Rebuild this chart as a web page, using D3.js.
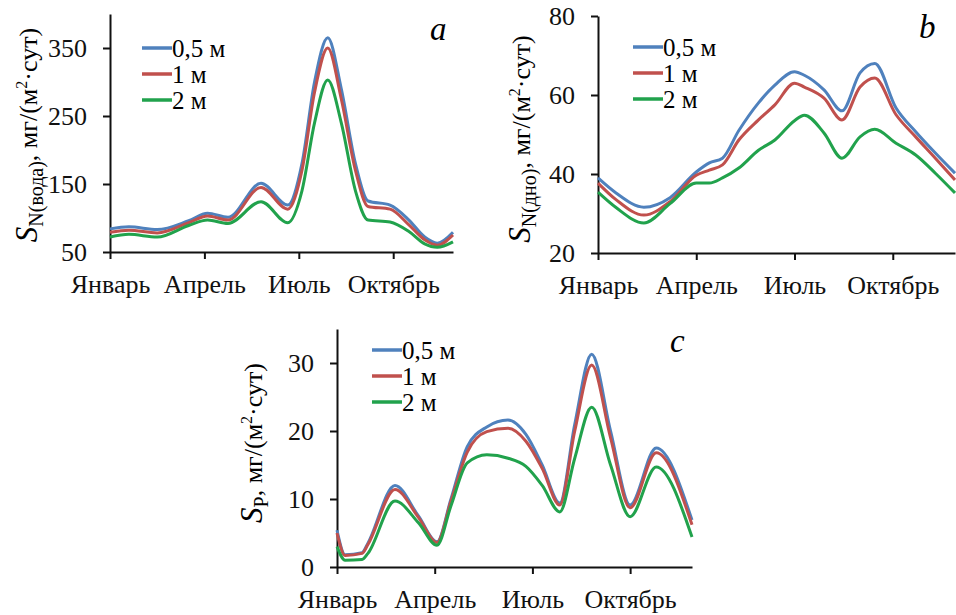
<!DOCTYPE html>
<html>
<head>
<meta charset="utf-8">
<script src="https://cdn.jsdelivr.net/npm/d3@7"></script>
<style>
  body { margin: 0; background: #fff; }
</style>
</head>
<body>
<div id="chart"></div>
<script>
// month ticks (0 = 1 Jan)
const monthTicks = [0, 3, 6, 9];
const monthLabels = ["Январь", "Апрель", "Июль", "Октябрь"];
const depths = ["0,5 м", "1 м", "2 м"];
const colors = ["#4f81bd", "#c0504d", "#21a24c"];
const serif = "\"Liberation Serif\", \"Times New Roman\", serif";

// panel a: S N(вода)
const monthsA = [0, 0.6, 1.5, 2.5, 3.1, 3.75, 4.8, 5.65, 6.1, 6.5, 6.92, 7.35, 7.8, 8.2, 8.9, 9.5, 10.0, 10.4, 10.9];
const waterA05 = [84, 87, 83, 96, 107, 101, 151, 119, 180, 300, 365, 290, 180, 125, 119, 97, 72, 63, 79];
const waterA1  = [79, 82, 78, 93, 103, 97, 145, 113, 170, 285, 350, 275, 170, 117, 113, 90, 68, 60, 75];
const waterA2  = [72, 76, 72, 89, 97, 92, 124, 93, 140, 240, 303, 240, 140, 97, 94, 80, 62, 57, 65];

// panel b: S N(дно)
const monthsB = [0, 0.55, 1.4, 2.2, 3.0, 3.4, 3.8, 4.3, 4.9, 5.4, 6.0, 6.3, 6.9, 7.45, 8.0, 8.45, 9.1, 9.7, 10.3, 10.9];
const bottomB05 = [39, 35.2, 31.6, 34, 40.5, 42.8, 44, 51, 58, 62.5, 65.9, 65, 61.3, 56, 65.6, 68, 56.7, 50.7, 45.3, 40.2];
const bottomB1  = [37.7, 33.5, 29.6, 33, 39.7, 41, 42.3, 48.6, 53.7, 57.5, 63, 62, 59.2, 53.7, 62, 64.3, 55, 49.4, 44, 38.5];
const bottomB2  = [35.4, 31.5, 27.6, 32.5, 37.7, 37.7, 39, 41.5, 46, 48.6, 53.5, 54.9, 50.4, 44, 49.4, 51.3, 47.8, 44.8, 40.2, 35.2];

// panel c: S P
const monthsC = [0, 0.25, 0.77, 0.95, 1.78, 2.5, 3.07, 3.5, 4.0, 4.6, 5.25, 5.8, 6.3, 6.84, 7.3, 7.82, 8.4, 9.0, 9.8, 10.9];
const phosC05 = [5.4, 1.8, 2.1, 3.5, 12.0, 7.5, 3.7, 10, 17.7, 20.6, 21.6, 19.5, 15, 9.4, 21, 31.3, 20, 9.1, 17.5, 6.9];
const phosC1  = [5.0, 1.7, 2.0, 3.3, 11.4, 7.3, 3.6, 9.7, 16.9, 19.9, 20.4, 18.5, 14.5, 9.1, 20, 29.7, 19, 8.7, 16.8, 6.2];
const phosC2  = [3.0, 1.0, 1.1, 2.0, 9.7, 6.5, 3.2, 9, 15.3, 16.5, 16.0, 14.8, 12, 8.1, 16, 23.5, 15, 7.4, 14.7, 4.4];

const svg = d3.select("#chart").append("svg").attr("width", 956).attr("height", 615);

function drawPanel(p) {
  const x = d3.scaleLinear().domain([0, 10.9]).range([p.left, p.right]);
  const y = d3.scaleLinear().domain(p.yDomain).range([p.bottom, p.top]);
  const g = svg.append("g");

  // x axis
  const xa = g.append("g").attr("transform", `translate(0,${p.bottom})`)
    .call(d3.axisBottom(x).tickValues(monthTicks).tickFormat((d, i) => monthLabels[i]).tickSize(7).tickSizeOuter(0).tickPadding(20));
  // y axis
  const ya = g.append("g").attr("transform", `translate(${p.left},0)`)
    .call(d3.axisLeft(y).tickValues(p.yTicks).tickSize(7).tickSizeOuter(0).tickPadding(16));
  [xa, ya].forEach(a => {
    a.attr("font-family", null).attr("font-size", null);
    a.select(".domain").attr("stroke", "#111").attr("stroke-width", 2);
    a.selectAll(".tick line").attr("stroke", "#111").attr("stroke-width", 2);
    a.selectAll("text").style("font-size", "26px").attr("fill", "#111");
  });
  xa.selectAll("text").attr("dy", "0.55em");

  // lines
  const line = d3.line().x((d, i) => x(p.months[i])).y(d => y(d)).curve(d3.curveMonotoneX);
  p.series.forEach((s, k) => {
    g.append("path").datum(s).attr("d", line)
      .attr("fill", "none").attr("stroke", colors[k]).attr("stroke-width", 3).attr("stroke-linejoin", "round");
  });

  // legend
  depths.forEach((name, k) => {
    const ly = p.legY + k * p.legStep;
    g.append("line").attr("x1", p.legX).attr("x2", p.legX + 30).attr("y1", ly).attr("y2", ly)
      .attr("stroke", colors[k]).attr("stroke-width", 3.5);
    g.append("text").attr("x", p.legX + 30).attr("y", ly).attr("dy", "0.35em")
      .style("font-size", "25px").text(name);
  });

  // panel letter
  g.append("text").attr("x", p.letter[0]).attr("y", p.letter[1])
    .style("font-size", "33px").style("font-style", "italic").text(p.name);

  // y title
  const t = g.append("text")
    .attr("transform", `translate(${p.titleX},${p.titleY}) rotate(-90)`)
    .attr("text-anchor", "middle").style("font-size", "26px");
  t.append("tspan").style("font-style", "italic").style("font-size", "31px").text("S");
  t.append("tspan").attr("dy", "6").style("font-size", "20px").text(p.sub);
  t.append("tspan").attr("dy", "-6").text(", мг/(м");
  t.append("tspan").attr("dy", "-10").style("font-size", "16px").text("2");
  t.append("tspan").attr("dy", "10").text("·сут)");
}

drawPanel({
  name: "a", left: 110, right: 453, top: 14, bottom: 252,
  yDomain: [50, 400], yTicks: [50, 150, 250, 350],
  months: monthsA, series: [waterA05, waterA1, waterA2],
  legX: 142, legY: 48, legStep: 26, letter: [430, 40],
  titleX: 37, titleY: 135, sub: "N(вода)"
});

drawPanel({
  name: "b", left: 598, right: 955, top: 16, bottom: 253,
  yDomain: [20, 80], yTicks: [20, 40, 60, 80],
  months: monthsB, series: [bottomB05, bottomB1, bottomB2],
  legX: 633, legY: 47, legStep: 26, letter: [919, 38],
  titleX: 530, titleY: 139, sub: "N(дно)"
});

drawPanel({
  name: "c", left: 337, right: 692, top: 329, bottom: 567,
  yDomain: [0, 35], yTicks: [0, 10, 20, 30],
  months: monthsC, series: [phosC05, phosC1, phosC2],
  legX: 372, legY: 350, legStep: 26, letter: [670, 352],
  titleX: 262, titleY: 443, sub: "P"
});

svg.selectAll("text").style("font-family", serif);
</script>
</body>
</html>
